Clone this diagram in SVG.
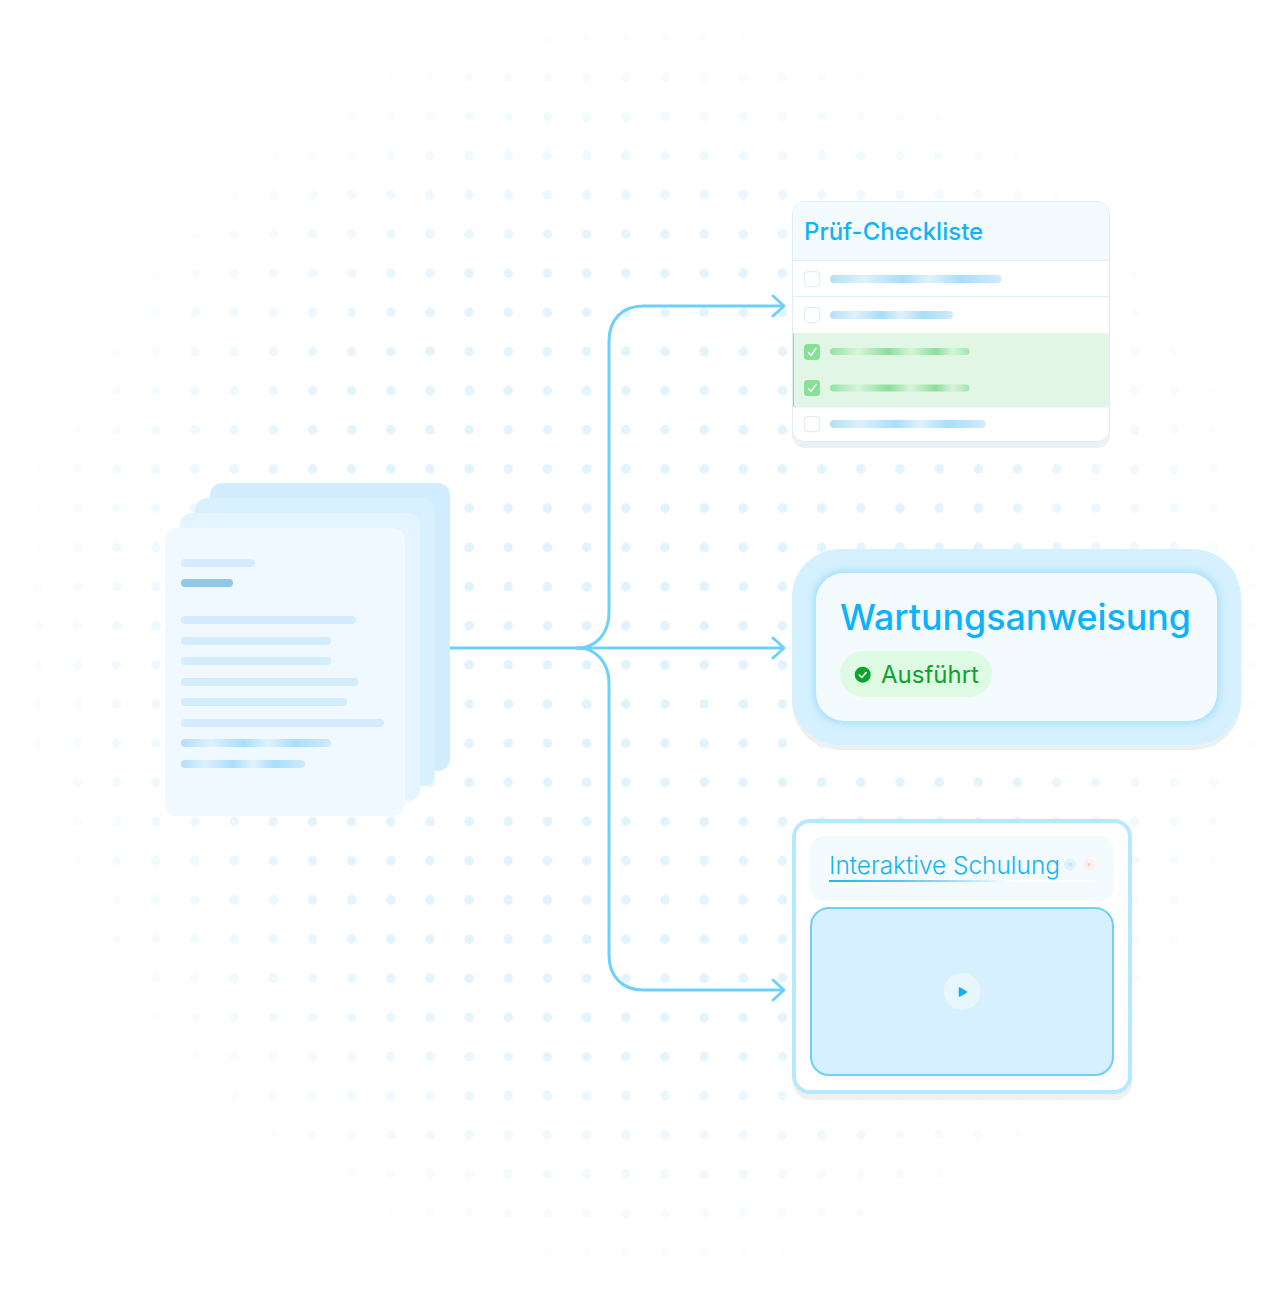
<svg xmlns="http://www.w3.org/2000/svg" width="1284" height="1296" viewBox="0 0 1284 1296">
<style>
text{font-family:Inter,"Liberation Sans",sans-serif}
.conn{fill:none;stroke:#6dd0fb;stroke-width:3;stroke-linecap:round}
.head{fill:none;stroke:#6dd0fb;stroke-width:3;stroke-linecap:round;stroke-linejoin:round}
.bar{fill:#d3edfd}
.box{fill:#fff;stroke:#e6edf2;stroke-width:1.2}
.boxg{fill:#86e095}
.chk{fill:none;stroke:#fff;stroke-width:1.4;stroke-linecap:round;stroke-linejoin:round}
.rule{stroke:#ddf0fa;stroke-width:1.2}
</style>
<defs>
<pattern id="dots" x="-20.500" y="-20.600" width="39.170" height="39.170" patternUnits="userSpaceOnUse"><circle cx="19.600" cy="19.600" r="4.800" fill="#e0f3fd"/></pattern>
<radialGradient id="fade" gradientUnits="userSpaceOnUse" cx="645" cy="648" r="650"><stop offset="0" stop-color="#fff" stop-opacity="1"/><stop offset=".6" stop-color="#fff" stop-opacity=".9"/><stop offset=".8" stop-color="#fff" stop-opacity=".45"/><stop offset="1" stop-color="#fff" stop-opacity="0"/></radialGradient>
<mask id="dotmask" maskUnits="userSpaceOnUse" x="0" y="0" width="1284" height="1296"><rect width="1284" height="1296" fill="url(#fade)"/></mask>
<linearGradient id="blueBar"><stop offset="0" stop-color="#b4e0fa"/><stop offset=".2" stop-color="#dcf1fc"/><stop offset=".42" stop-color="#a8defd"/><stop offset=".58" stop-color="#dff2fc"/><stop offset=".76" stop-color="#a8defd"/><stop offset="1" stop-color="#d0ebfc"/></linearGradient>
<linearGradient id="greenBar"><stop offset="0" stop-color="#93e2a1"/><stop offset=".2" stop-color="#d6f5db"/><stop offset=".42" stop-color="#8cdd9b"/><stop offset=".58" stop-color="#d6f5db"/><stop offset=".76" stop-color="#8cdd9b"/><stop offset=".88" stop-color="#d6f5db"/><stop offset="1" stop-color="#a0e5ad"/></linearGradient>
<linearGradient id="uline"><stop offset="0" stop-color="#1fb3f5"/><stop offset=".3" stop-color="#5ccbf8"/><stop offset=".6" stop-color="#d5f1fc"/><stop offset=".68" stop-color="#fff"/><stop offset="1" stop-color="#fff"/></linearGradient>
<filter id="glow" x="-10%" y="-20%" width="120%" height="140%"><feGaussianBlur stdDeviation="3"/></filter>
<clipPath id="c1"><rect x="793" y="202" width="316" height="239" rx="12"/></clipPath>
</defs>
<rect width="1284" height="1296" fill="#fff"/>
<rect id="dot-grid" width="1284" height="1296" fill="url(#dots)" mask="url(#dotmask)"/>

<g id="connectors">
<path class="conn" d="M450 648H782"/>
<path class="conn" d="M578 648C596 648 609 633 609 613V341C609 320 622 306 643 306H782"/>
<path class="conn" d="M578 648C596 648 609 663 609 683V955C609 976 622 990 643 990H782"/>
<path class="head" d="M773 296L784 306L773 316"/>
<path class="head" d="M773 638L784 648L773 658"/>
<path class="head" d="M773 980L784 990L773 1000"/>
</g>

<g id="documents">
<rect x="210" y="483" width="240" height="288" rx="12" fill="#d1edff"/>
<rect x="195" y="498" width="240" height="288" rx="12" fill="#d9f1ff"/>
<rect x="180" y="513" width="240" height="288" rx="12" fill="#e5f5ff"/>
<rect x="165" y="528" width="240" height="288" rx="12" fill="#eff9ff"/>
<rect class="bar" x="181" y="559" width="74" height="8" rx="4"/>
<rect x="181" y="579" width="52" height="8" rx="4" fill="#8fc8e8"/>
<rect class="bar" x="181" y="616" width="175" height="8" rx="4"/>
<rect class="bar" x="181" y="637" width="150" height="8" rx="4"/>
<rect class="bar" x="181" y="657" width="150" height="8" rx="4"/>
<rect class="bar" x="181" y="678" width="177" height="8" rx="4"/>
<rect class="bar" x="181" y="698" width="166" height="8" rx="4"/>
<rect class="bar" x="181" y="719" width="203" height="8" rx="4"/>
<rect x="181" y="739" width="150" height="8" rx="4" fill="url(#blueBar)"/>
<rect x="181" y="760" width="124" height="8" rx="4" fill="url(#blueBar)"/>
</g>

<g id="checklist">
<rect x="792" y="208" width="318" height="240" rx="13" fill="#edf1f4"/>
<rect x="792.500" y="201.500" width="317" height="240" rx="12" fill="#fff" stroke="#ddf0fa"/>
<g clip-path="url(#c1)">
<rect x="793" y="202" width="316" height="58" fill="#f3fbff"/>
<rect x="793" y="333" width="316" height="74" fill="#e1f6e5"/>
<rect x="793" y="333" width="1" height="74" fill="#8fdf9f"/>
</g>
<path class="rule" d="M793 260.500H1109M793 296.500H1109M793 407H1109"/>
<text x="804" y="240" font-size="24" font-weight="500" fill="#14b3f5">Prüf-Checkliste</text>
<rect class="box" x="804.600" y="271.600" width="15" height="15" rx="3.500"/>
<rect x="830" y="275" width="171.500" height="8" rx="4" fill="url(#blueBar)"/>
<rect class="box" x="804.600" y="307.600" width="15" height="15" rx="3.500"/>
<rect x="830" y="311" width="123" height="8" rx="4" fill="url(#blueBar)"/>
<rect class="boxg" x="804" y="344" width="16" height="16" rx="3.500"/>
<path class="chk" d="M808.500 352.500L811 355.500L816 348.500"/>
<rect x="830" y="348" width="139.500" height="7" rx="3.500" fill="url(#greenBar)"/>
<rect class="boxg" x="804" y="380" width="16" height="16" rx="3.500"/>
<path class="chk" d="M808.500 388.500L811 391.500L816 384.500"/>
<rect x="830" y="384.500" width="139.500" height="7" rx="3.500" fill="url(#greenBar)"/>
<rect class="box" x="804.600" y="416.600" width="15" height="15" rx="3.500"/>
<rect x="830" y="420" width="155.500" height="8" rx="4" fill="url(#blueBar)"/>
</g>

<g id="instruction">
<rect x="792" y="554" width="449" height="196" rx="48" fill="#eeeff0"/>
<rect x="792" y="549" width="449" height="196" rx="48" fill="#d5f0fe"/>
<rect x="813" y="570" width="407" height="154" rx="30" fill="#a9e2ff" filter="url(#glow)"/>
<rect x="816" y="573" width="401" height="148" rx="28" fill="#f3fbff"/>
<text x="840" y="630" font-size="35.800" font-weight="500" fill="#0db2fb">Wartungsanweisung</text>
<rect x="840" y="651" width="152" height="46" rx="23" fill="#e0fbe3"/>
<circle cx="862.700" cy="674.700" r="8" fill="#05a62a"/>
<path d="M859.200 675L861.800 677.500L866.200 672.500" fill="none" stroke="#fff" stroke-width="1.600" stroke-linecap="round" stroke-linejoin="round"/>
<text x="881" y="683" font-size="24" fill="#0da22e">Ausführt</text>
</g>

<g id="training">
<rect x="793" y="825" width="339" height="275" rx="18" fill="#eef0f2"/>
<rect x="794" y="821" width="336" height="271" rx="16" fill="#fff" stroke="#b6e8ff" stroke-width="4"/>
<rect x="810" y="836" width="304" height="65" rx="14" fill="#f4fbff"/>
<text x="829" y="873.500" font-size="24.400" font-weight="300" fill="#14b3f5">Interaktive Schulung</text>
<rect x="829" y="880" width="266" height="2" fill="url(#uline)"/>
<circle cx="1070" cy="864.500" r="6" fill="#e1f1fd"/>
<path d="M1069 862.500V866.500M1071 862.500V866.500" stroke="#a9d8f6" stroke-width=".8"/>
<circle cx="1089" cy="864.500" r="6" fill="#fdf0ee"/>
<path d="M1087.800 863.300L1090.200 865.700M1090.200 863.300L1087.800 865.700" stroke="#f6a79c" stroke-width=".8"/>
<rect x="811" y="908" width="302" height="167" rx="18" fill="#d6f0ff" stroke="#6dcffa" stroke-width="2"/>
<circle cx="962" cy="991.500" r="18.500" fill="#e8f7ff"/>
<path d="M959.500 988V996L966.500 992Z" fill="#0fb0f5" stroke="#0fb0f5" stroke-width="1.500" stroke-linejoin="round"/>
</g>
</svg>
